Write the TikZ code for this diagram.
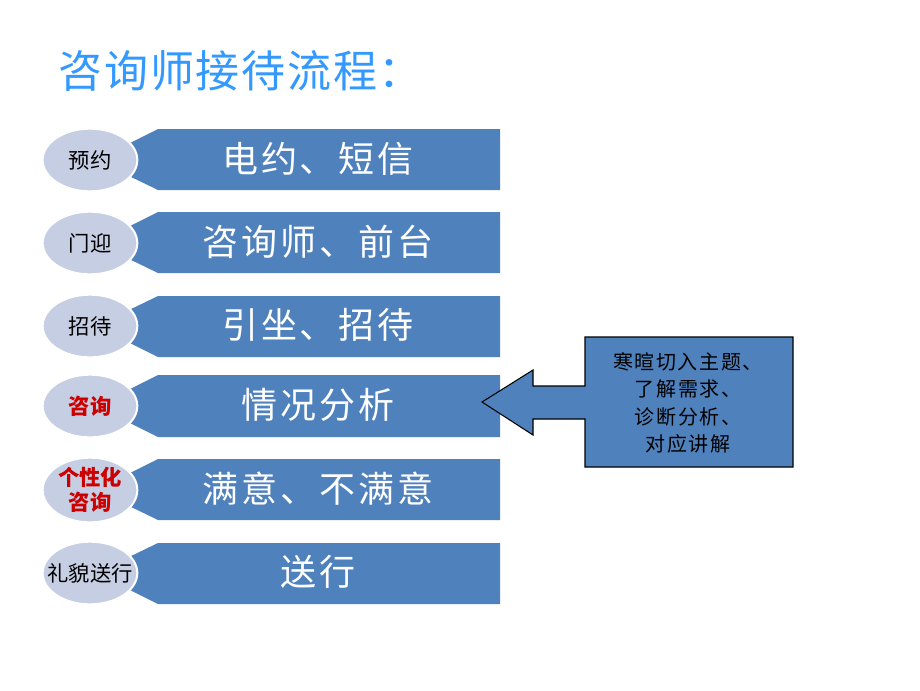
\documentclass[tikz,border=0pt]{standalone}
\usepackage{fontspec}
\setmainfont{Noto Sans CJK SC}
\newfontfamily\bannerfont{Noto Sans CJK SC}[LetterSpace=8]
\newfontfamily\notefont{Noto Sans CJK SC}[LetterSpace=8]
\newfontfamily\titlefont{Noto Sans CJK SC}[LetterSpace=4]
\usetikzlibrary{shapes.geometric}
\definecolor{bannerblue}{RGB}{79,129,189}
\definecolor{ovalgrey}{RGB}{197,206,226}
\definecolor{titleblue}{RGB}{51,153,255}
\definecolor{stepred}{RGB}{204,0,0}
\tikzstyle{banner} = [fill=bannerblue]
\tikzstyle{bantext} = [text=white, font=\bannerfont\fontsize{27}{30}\selectfont]
\tikzstyle{oval} = [ellipse, fill=ovalgrey, draw=white, line width=1.5pt,
minimum width=71pt, minimum height=47pt, inner sep=0pt, align=center,
font=\fontsize{16}{18}\selectfont]
\tikzstyle{redstep} = [text=stepred, font=\bfseries\fontsize{16}{18}\selectfont]

\begin{document}
\begin{tikzpicture}[x=0.75pt, y=-0.75pt]
        \useasboundingbox (0,0) rectangle (920,690);
        \node[anchor=west, text=titleblue, font=\titlefont\fontsize{33}{36}\selectfont] (title) at (54,71) {咨询师接待流程：};
        % step banners
        \fill[banner] (158,129) -- (500,129) -- (500,190) -- (158,190) -- (96,160) -- cycle;
        \fill[banner] (158,212) -- (500,212) -- (500,273) -- (158,273) -- (96,243) -- cycle;
        \fill[banner] (158,296) -- (500,296) -- (500,357) -- (158,357) -- (96,326) -- cycle;
        \fill[banner] (158,375) -- (500,375) -- (500,437) -- (158,437) -- (96,406) -- cycle;
        \fill[banner] (158,459) -- (500,459) -- (500,520) -- (158,520) -- (96,490) -- cycle;
        \fill[banner] (158,543) -- (500,543) -- (500,604) -- (158,604) -- (96,573) -- cycle;
        \node[bantext] (r1) at (318,159) {电约、短信};
        \node[bantext] (r2) at (318,242) {咨询师、前台};
        \node[bantext] (r3) at (318,325) {引坐、招待};
        \node[bantext] (r4) at (318,405) {情况分析};
        \node[bantext] (r5) at (318,489) {满意、不满意};
        \node[bantext] (r6) at (318,572) {送行};
        \node[oval] (s1) at (90,160) {预约};
        \node[oval] (s2) at (90,243) {门迎};
        \node[oval] (s3) at (90,326) {招待};
        \node[oval, redstep] (s4) at (90,406) {咨询};
        \node[oval, redstep, font=\bfseries\fontsize{16}{19}\selectfont] (s5) at (90,490) {个性化\\咨询};
        \node[oval] (s6) at (90,573) {\makebox[0pt]{礼貌送行}};
        % callout
        \filldraw[fill=bannerblue, draw=black, line width=0.8pt] (585,337) -- (793,337) -- (793,467) -- (585,467) -- (585,419)
            -- (533,419) -- (533,435) -- (482,402) -- (533,370) -- (533,386) -- (585,386) -- cycle;
        \node[align=center, font=\notefont\fontsize{15}{20.5}\selectfont] (note) at (688,403) {寒暄切入主题、\\了解需求、\\诊断分析、\\对应讲解};
    \end{tikzpicture}
\end{document}
